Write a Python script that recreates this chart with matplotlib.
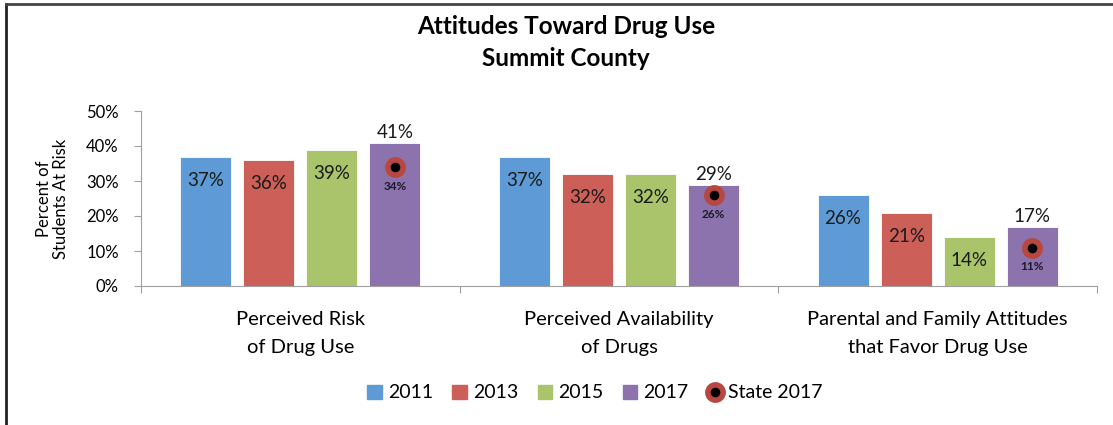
import numpy as np
import matplotlib.pyplot as plt
from matplotlib.lines import Line2D
from matplotlib.patches import Patch

plt.rcParams['font.family'] = ['Lato', 'DejaVu Sans']

# data
categories = ['Perceived Risk\nof Drug Use', 'Perceived Availability\nof Drugs',
              'Parental and Family Attitudes\nthat Favor Drug Use']
years = ['2011', '2013', '2015', '2017']
v2011 = [37, 37, 26]
v2013 = [36, 32, 21]
v2015 = [39, 32, 14]
v2017 = [41, 29, 17]
state2017 = [34, 26, 11]
colors = ['#5E9BD6', '#CC5F58', '#A9C46A', '#8C73AD']

series = [v2011, v2013, v2015, v2017]

fig = plt.figure(figsize=(11.13, 4.25), dpi=100)
ax = fig.add_axes([141/1113, 139/425, 956/1113, 175/425])

x = np.arange(len(categories))
step = 0.198
width = 0.16
for i, (vals, c) in enumerate(zip(series, colors)):
    pos = x + (i - 1.5) * step
    ax.bar(pos, np.array(vals) / 100, width, color=c, edgecolor='white', linewidth=0.6)
    for p, v in zip(pos, vals):
        if i == 3:
            ax.annotate(f'{v}%', (p, v / 100), xytext=(0, 1), textcoords='offset points',
                        ha='center', va='bottom', fontsize=13.5, color='#1a1a1a')
        else:
            ax.annotate(f'{v}%', (p, v / 100), xytext=(0, -17), textcoords='offset points',
                        ha='center', va='center', fontsize=13.5, color='#1a1a1a')

# state markers on the 2017 bars
spos = x + 1.5 * step
ax.plot(spos, np.array(state2017) / 100, 'o', ms=11, mfc='black', mec='#B8473F', mew=4,
        linestyle='none')
for p, v in zip(spos, state2017):
    ax.annotate(f'{v}%', (p, v / 100), xytext=(0, -14), textcoords='offset points',
                ha='center', va='center', fontsize=8.5, fontweight='bold', color='#1a1a2a')

ax.set_xlim(-0.5, 2.5)
ax.set_ylim(0, 0.5)
ticks = np.arange(0, 0.51, 0.1)
ax.set_yticks(ticks)
ax.set_yticklabels([f'{int(round(t*100))}%' for t in ticks], fontsize=12)
ax.set_xticks([-0.5, 0.5, 1.5, 2.5])
ax.set_xticklabels([])
ax.set_xticks(x, minor=True)
ax.set_xticklabels(categories, minor=True, fontsize=14.5, linespacing=1.75)
ax.tick_params(axis='x', which='minor', length=0, pad=18)
ax.tick_params(axis='x', which='major', length=5, color='#A0A0A0')
ax.tick_params(axis='y', length=5, color='#A0A0A0', pad=11)
for s in ['top', 'right']:
    ax.spines[s].set_visible(False)
ax.spines['left'].set_color('#A0A0A0')
ax.spines['bottom'].set_color('#A0A0A0')
ax.set_ylabel('Percent of\nStudents At Risk', fontsize=12, labelpad=12, linespacing=1.1)

fig.text(566/1113, 1 - 26/425, 'Attitudes Toward Drug Use', ha='center', va='center',
         fontsize=17.5, fontweight='bold')
fig.text(566/1113, 1 - 59/425, 'Summit County', ha='center', va='center',
         fontsize=17.5, fontweight='bold')

handles = [Patch(color=c) for c in colors]
handles.append(Line2D([], [], marker='o', ms=11, mfc='black', mec='#B8473F', mew=4,
                      linestyle='none'))
fig.legend(handles, years + ['State 2017'], loc='center', bbox_to_anchor=(595/1113, 1 - 393/425),
           ncol=5, frameon=False, fontsize=14, handlelength=0.75, handleheight=0.75,
           handletextpad=0.3, columnspacing=1.0)

# chart border (left and top edges)
fig.add_artist(Line2D([6/1113, 6/1113], [0, 1 - 4/425], color='#222222', lw=2))
fig.add_artist(Line2D([6/1113, 1], [1 - 4/425, 1 - 4/425], color='#444444', lw=2))

fig.savefig('out.png', dpi=100)
